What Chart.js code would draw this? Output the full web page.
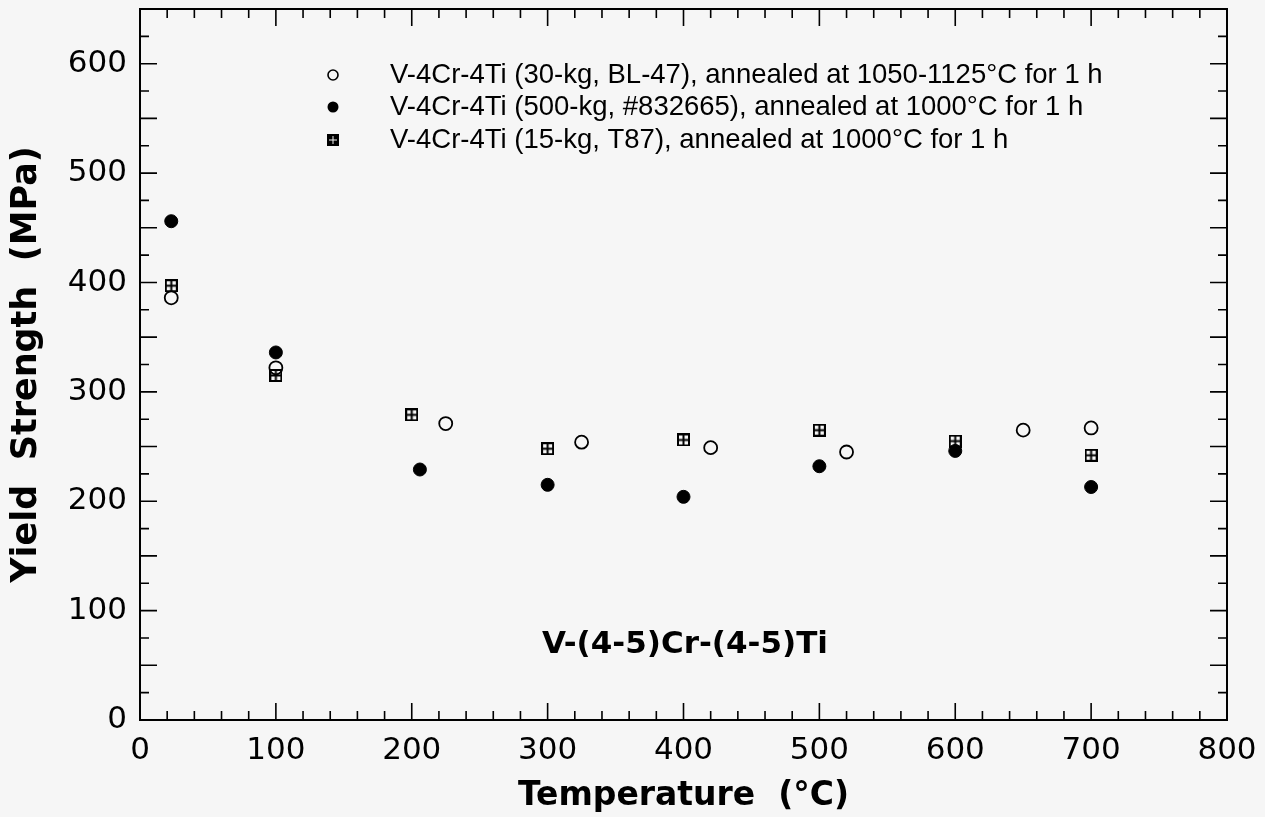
<!DOCTYPE html>
<html>
<head>
<meta charset="utf-8">
<script src="https://cdn.jsdelivr.net/npm/chart.js@4/dist/chart.umd.min.js"></script>
<style>
  html, body { margin: 0; padding: 0; background: #f6f6f6; }
</style>
</head>
<body>
<canvas id="grafico" width="1265" height="817"></canvas>
<script>
// temperatures (°C) and yield strength (MPa) for each heat
const tempBL47 = [23, 100, 225, 325, 420, 520, 650, 700];
const ysBL47 = [386, 322, 271, 254, 249, 245, 265, 267];

const temp832665 = [23, 100, 206, 300, 400, 500, 600, 700];
const ys832665 = [456, 336, 229, 215, 204, 232, 246, 213];

const tempT87 = [23, 100, 200, 300, 400, 500, 600, 700];
const ysT87 = [397, 315, 279, 248, 256, 265, 255, 242];

const seriesLabels = [
    'V-4Cr-4Ti (30-kg, BL-47), annealed at 1050-1125°C for 1 h',
    'V-4Cr-4Ti (500-kg, #832665), annealed at 1000°C for 1 h',
    'V-4Cr-4Ti (15-kg, T87), annealed at 1000°C for 1 h'
];
const alloyNote = 'V-(4-5)Cr-(4-5)Ti';

const toPoints = (xs, ys) => xs.map((x, i) => ({ x: x, y: ys[i] }));

// square with a cross, as in the original figure
function boxCross(size, lw, fill) {
    const c = document.createElement('canvas');
    c.width = size;
    c.height = size;
    const g = c.getContext('2d');
    g.strokeStyle = '#000';
    g.lineWidth = lw;
    if (fill) {
        g.fillStyle = '#000';
        g.fillRect(0, 0, size, size);
        g.strokeStyle = '#f6f6f6';
        g.lineWidth = 1;
        g.beginPath();
        g.moveTo(size / 2, 2); g.lineTo(size / 2, size - 2);
        g.moveTo(2, size / 2); g.lineTo(size - 2, size / 2);
        g.stroke();
        return c;
    }
    g.strokeRect(lw / 2, lw / 2, size - lw, size - lw);
    g.beginPath();
    g.moveTo(size / 2, 0); g.lineTo(size / 2, size);
    g.moveTo(0, size / 2); g.lineTo(size, size / 2);
    g.stroke();
    return c;
}
const squareMark = boxCross(13, 2, false);
const squareLegend = boxCross(12, 2, true);

const framePlugin = {
    id: 'frame',
    beforeDatasetsDraw(chart) {
        const { ctx, chartArea: a, scales: { x, y } } = chart;
        ctx.save();
        ctx.strokeStyle = '#000';
        ctx.lineWidth = 2;
        ctx.strokeRect(a.left, a.top, a.right - a.left, a.bottom - a.top);

        ctx.lineWidth = 1.6;
        ctx.beginPath();
        for (let v = 0; v <= 800; v += 20) {
            const px = x.getPixelForValue(v);
            const len = v % 100 === 0 ? 17 : 9;
            ctx.moveTo(px, a.bottom); ctx.lineTo(px, a.bottom - len);
            ctx.moveTo(px, a.top); ctx.lineTo(px, a.top + len);
        }
        for (let v = 0; v <= 650; v += 25) {
            const py = y.getPixelForValue(v);
            const len = v % 50 === 0 ? 17 : 9;
            ctx.moveTo(a.left, py); ctx.lineTo(a.left + len, py);
            ctx.moveTo(a.right, py); ctx.lineTo(a.right - len, py);
        }
        ctx.stroke();

        // legend inside the plot
        ctx.fillStyle = '#000';
        ctx.font = '27.5px "Liberation Sans", Arial, sans-serif';
        ctx.textBaseline = 'middle';
        ctx.textAlign = 'left';
        const rows = [75, 107, 140];
        const mx = 333, tx = 390;
        seriesLabels.forEach((t, i) => {
            ctx.fillText(t, tx, rows[i]);
        });
        ctx.lineWidth = 1.6;
        ctx.beginPath();
        ctx.arc(mx, rows[0], 5, 0, Math.PI * 2);
        ctx.stroke();
        ctx.beginPath();
        ctx.arc(mx, rows[1], 5.5, 0, Math.PI * 2);
        ctx.fill();
        ctx.drawImage(squareLegend, mx - 6, rows[2] - 6);

        // alloy label
        ctx.font = 'bold 31px "DejaVu Sans", sans-serif';
        ctx.textAlign = 'center';
        ctx.fillText(alloyNote, 685, 645);
        ctx.restore();
    }
};

const ctx = document.getElementById('grafico');

const data = {
    datasets: [
        {
            label: seriesLabels[2],
            data: toPoints(tempT87, ysT87),
            pointStyle: squareMark,
            order: 0
        },
        {
            label: seriesLabels[1],
            data: toPoints(temp832665, ys832665),
            pointStyle: 'circle',
            pointRadius: 6.5,
            backgroundColor: '#000',
            borderColor: '#000',
            borderWidth: 1,
            order: 1
        },
        {
            label: seriesLabels[0],
            data: toPoints(tempBL47, ysBL47),
            pointStyle: 'circle',
            pointRadius: 6.5,
            backgroundColor: 'rgba(0,0,0,0)',
            borderColor: '#000',
            borderWidth: 1.8,
            order: 2
        }
    ]
};

const options = {
    responsive: false,
    animation: false,
    layout: { padding: { left: 0, right: 38, top: 9, bottom: 0 } },
    plugins: {
        legend: { display: false },
        tooltip: { enabled: false }
    },
    scales: {
        x: {
            type: 'linear',
            min: 0,
            max: 800,
            grid: { display: false },
            border: { display: false },
            ticks: {
                stepSize: 100,
                color: '#000',
                padding: 4,
                maxRotation: 0,
                font: { family: '"DejaVu Sans", sans-serif', size: 31 }
            },
            title: {
                display: true,
                text: 'Temperature  (°C)',
                color: '#000',
                padding: { top: 0, bottom: 1 },
                font: { family: '"DejaVu Sans", sans-serif', size: 33, weight: 'bold' }
            },
            afterFit(scale) {
                scale.height = 97;
                scale.paddingLeft = 0;
                scale.paddingRight = 0;
            }
        },
        y: {
            type: 'linear',
            min: 0,
            max: 650,
            grid: { display: false },
            border: { display: false },
            ticks: {
                stepSize: 100,
                color: '#000',
                padding: 5,
                callback: (v) => (v % 100 === 0 ? v : ''),
                font: { family: '"DejaVu Sans", sans-serif', size: 31 }
            },
            title: {
                display: true,
                text: 'Yield  Strength  (MPa)',
                color: '#000',
                padding: { top: 6, bottom: 0 },
                font: { family: '"DejaVu Sans", sans-serif', size: 35, weight: 'bold' }
            },
            afterFit(scale) {
                scale.width = 140;
                scale.paddingTop = 0;
                scale.paddingBottom = 0;
            }
        }
    }
};

const myChart = new Chart(ctx, {
    type: 'scatter',
    data: data,
    options: options,
    plugins: [framePlugin]
});
</script>
</body>
</html>
